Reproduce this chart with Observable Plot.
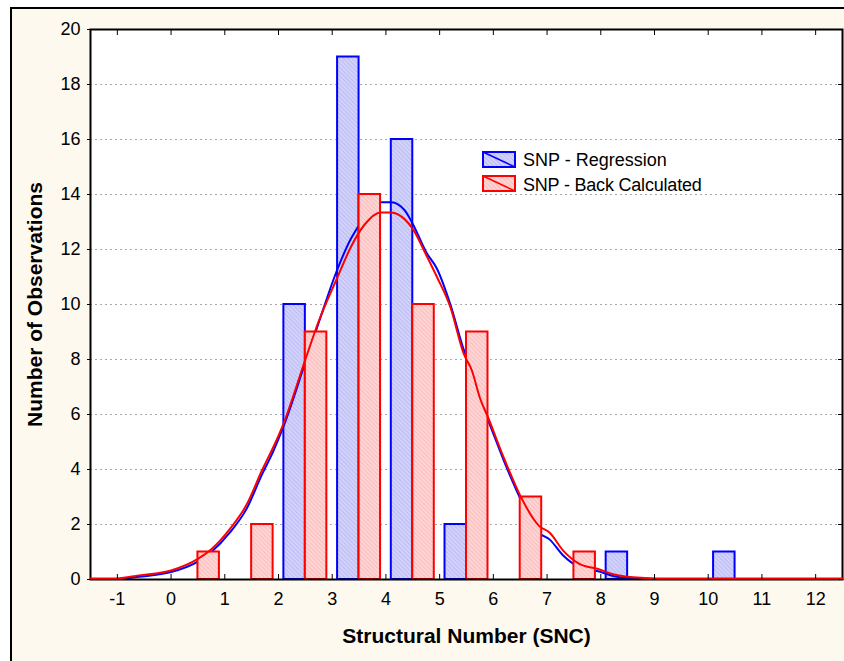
<!DOCTYPE html>
<html>
<head>
<meta charset="utf-8">
<script src="https://cdn.jsdelivr.net/npm/d3@7"></script>
<script src="https://cdn.jsdelivr.net/npm/@observablehq/plot@0.6"></script>
<style>
  html, body { margin: 0; padding: 0; background: #ffffff; width: 844px; height: 661px; overflow: hidden; }
  #box { position: absolute; left: 10px; top: 7px; width: 900px; height: 700px; border-left: 2px solid #000; border-top: 2px solid #000; background: #fdf9ef; }
  #chart { position: absolute; left: 0; top: 0; }
  .leg { position: absolute; font-family: Arial, "Liberation Sans", sans-serif; font-size: 18px; line-height: 18px; color: #000; white-space: nowrap; }
  .sw { position: absolute; }
</style>
</head>
<body>
<svg width="0" height="0" style="position:absolute">
  <defs>
    <pattern id="hatchBlue" patternUnits="userSpaceOnUse" width="3" height="3" patternTransform="rotate(-45)">
      <rect width="3" height="3" fill="#d2d2fb"/>
      <line x1="0" y1="0" x2="0" y2="3" stroke="#aeaef2" stroke-width="1.2"/>
    </pattern>
    <pattern id="hatchRed" patternUnits="userSpaceOnUse" width="3" height="3" patternTransform="rotate(-45)">
      <rect width="3" height="3" fill="#ffd4d4"/>
      <line x1="0" y1="0" x2="0" y2="3" stroke="#f6b0b0" stroke-width="1.2"/>
    </pattern>
  </defs>
</svg>
<div id="box"></div>
<div id="chart"></div>
<svg class="sw" style="left:482px;top:151px" width="34" height="17">
  <rect x="1" y="1" width="32" height="15" fill="url(#hatchBlue)" stroke="#0000ff" stroke-width="2"/>
  <line x1="1" y1="1" x2="33" y2="16" stroke="#0000ff" stroke-width="1.5"/>
</svg>
<div class="leg" style="left:523px;top:151px">SNP - Regression</div>
<svg class="sw" style="left:482px;top:175px" width="34" height="17">
  <rect x="1" y="1" width="32" height="15" fill="url(#hatchRed)" stroke="#ff0000" stroke-width="2"/>
  <line x1="1" y1="1" x2="33" y2="16" stroke="#ff0000" stroke-width="1.5"/>
</svg>
<div class="leg" style="left:523px;top:176px;letter-spacing:-0.2px">SNP - Back Calculated</div>
<script>
// ---- data ----
const binStarts = [0, 1, 2, 3, 4, 5, 6, 7, 8, 9, 10];
const regressionCounts = [0, 0, 10, 19, 16, 2, 0, 0, 1, 0, 1];
const backCalcCounts   = [1, 2, 9, 14, 10, 9, 3, 1, 0, 0, 0];

const curveX = [-1.5, -1.0, -0.6, 0, 0.5, 0.75, 1.1, 1.4, 1.7, 1.9, 2.1, 2.5, 2.75, 3.1, 3.35, 3.6, 3.9, 4.1, 4.35, 4.5, 4.75, 4.95, 5.2, 5.45, 5.6, 5.75, 5.9, 6.2, 6.5, 6.85, 7.05, 7.3, 7.6, 7.95, 8.25, 8.6, 9.05, 12.5];
const regressionFit = [0.02, 0.02, 0.1, 0.27, 0.65, 1.0, 1.72, 2.55, 3.85, 4.65, 5.6, 7.9, 9.35, 11.3, 12.4, 13.15, 13.72, 13.72, 13.42, 12.93, 11.9, 11.3, 10.0, 8.35, 7.6, 6.5, 5.8, 4.3, 2.95, 1.7, 1.45, 0.87, 0.45, 0.3, 0.12, 0.04, 0.02, 0.02];
const backCalcFit   = [0.04, 0.04, 0.15, 0.33, 0.75, 1.1, 1.85, 2.7, 4.0, 4.8, 5.7, 8.0, 9.4, 11.0, 12.1, 12.9, 13.35, 13.35, 13.1, 12.75, 11.8, 11.0, 9.9, 8.2, 7.6, 6.6, 5.9, 4.4, 3.05, 1.95, 1.7, 1.05, 0.57, 0.38, 0.18, 0.08, 0.04, 0.04];

const xTicks = [-1, 0, 1, 2, 3, 4, 5, 6, 7, 8, 9, 10, 11, 12];
const yTicks = [0, 2, 4, 6, 8, 10, 12, 14, 16, 18, 20];

const xTitle = "Structural Number (SNC)";
const yTitle = "Number of Observations";

// ---- tables ----
const blueBars = binStarts.map((b, i) => ({x1: b + 0.1, x2: b + 0.5, count: regressionCounts[i]})).filter(d => d.count > 0);
const redBars  = binStarts.map((b, i) => ({x1: b + 0.5, x2: b + 0.9, count: backCalcCounts[i]})).filter(d => d.count > 0);
const blueCurve = curveX.map((x, i) => ({x, y: regressionFit[i]}));
const redCurve  = curveX.map((x, i) => ({x, y: backCalcFit[i]}));

const blank = () => "";
const plain = d => String(d);

const chart = Plot.plot({
  width: 844,
  height: 661,
  marginLeft: 90,
  marginRight: 2,
  marginTop: 29,
  marginBottom: 82,
  style: {background: "transparent", fontFamily: "Arial, 'Liberation Sans', sans-serif", fontSize: "18px", color: "#000", overflow: "visible"},
  x: {domain: [-1.5, 12.5]},
  y: {domain: [0, 20]},
  marks: [
    Plot.frame({fill: "white", stroke: null}),
    Plot.gridY(yTicks.filter(v => v > 0 && v < 20), {stroke: "#a8a8a8", strokeOpacity: 1, strokeDasharray: "2,3"}),
    Plot.rectY(blueBars, {x1: "x1", x2: "x2", y1: 0, y2: "count", fill: "url(#hatchBlue)", stroke: "#0000ff", strokeWidth: 2}),
    Plot.line(blueCurve, {x: "x", y: "y", stroke: "#0000ff", strokeWidth: 2, curve: "monotone-x"}),
    Plot.rectY(redBars, {x1: "x1", x2: "x2", y1: 0, y2: "count", fill: "url(#hatchRed)", stroke: "#ff0000", strokeWidth: 2}),
    Plot.frame({stroke: "#000", strokeWidth: 2, fill: null}),
    Plot.line(redCurve, {x: "x", y: "y", stroke: "#ff0000", strokeWidth: 2, curve: "monotone-x"}),
    Plot.axisY({ticks: yTicks, anchor: "left", tickSize: 3, tickPadding: 7, tickFormat: plain, label: null, fontSize: 18}),
    Plot.axisY({ticks: yTicks, anchor: "right", tickSize: -5, tickFormat: blank, label: null}),
    Plot.axisX({ticks: xTicks, anchor: "bottom", tickSize: 0, tickPadding: 13, tickFormat: plain, label: null, fontSize: 18}),
    Plot.axisX({ticks: xTicks, anchor: "bottom", tickSize: -5, tickFormat: blank, label: null}),
    Plot.axisX({ticks: xTicks, anchor: "top", tickSize: -5, tickFormat: blank, label: null}),
    Plot.text([xTitle], {frameAnchor: "bottom", dy: 63, textAnchor: "middle", fontWeight: "bold", fontSize: 21, text: d => d}),
    Plot.text([yTitle], {frameAnchor: "left", dx: -55, rotate: -90, textAnchor: "middle", fontWeight: "bold", fontSize: 21, text: d => d})
  ]
});
document.getElementById("chart").appendChild(chart);
</script>
</body>
</html>
